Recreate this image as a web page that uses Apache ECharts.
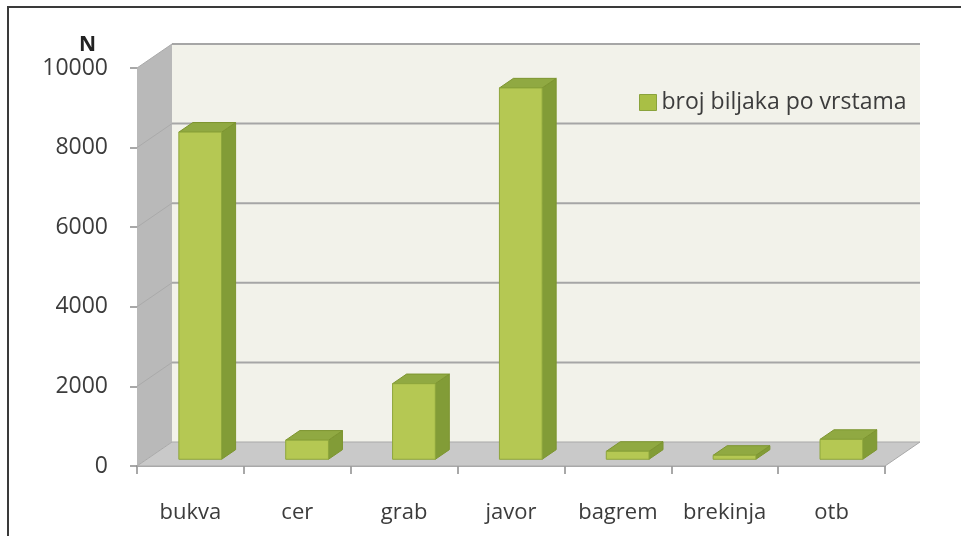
<!DOCTYPE html>
<html>
<head>
<meta charset="utf-8">
<script src="https://cdn.jsdelivr.net/npm/echarts@6/dist/echarts.min.js"></script>
<style>
  html, body { margin: 0; padding: 0; background: #ffffff; }
  #chart { width: 961px; height: 536px; }
</style>
</head>
<body>
<div id="chart"></div>
<script>
// Tree species and number of plants per species
const categories = ['bukva', 'cer', 'grab', 'javor', 'bagrem', 'brekinja', 'otb'];
const counts = [8220, 480, 1900, 9330, 200, 100, 500];
const yTicks = [0, 2000, 4000, 6000, 8000, 10000];
const seriesName = 'broj biljaka po vrstama';

// Pseudo-3D depth: offset of the back wall relative to the front plane
const DX = 35, DY = -24;
const BAR_D0 = 0.28, BAR_D1 = 0.68, BAR_W = 0.4;

const FONT = '"Open Sans", sans-serif';
const TEXT_COLOR = '#3c3c3c';

function renderFrame(params, api) {
  const cs = params.coordSys;
  const x0 = cs.x, x1 = cs.x + cs.width;
  const yt = cs.y, yb = cs.y + cs.height;
  const children = [];
  // back wall
  children.push({
    type: 'polygon',
    shape: { points: [[x0 + DX, yt + DY], [x1 + DX, yt + DY], [x1 + DX, yb + DY], [x0 + DX, yb + DY]] },
    style: { fill: '#f2f2ea' }
  });
  // side wall
  children.push({
    type: 'polygon',
    shape: { points: [[x0, yt], [x0 + DX, yt + DY], [x0 + DX, yb + DY], [x0, yb]] },
    style: { fill: '#b9b9b9' }
  });
  // floor
  children.push({
    type: 'polygon',
    shape: { points: [[x0, yb], [x0 + DX, yb + DY], [x1 + DX, yb + DY], [x1, yb]] },
    style: { fill: '#c9c9c9', stroke: '#a9a9a9', lineWidth: 1 }
  });
  // gridlines on the back wall and side wall
  yTicks.forEach(function (v) {
    const y = api.coord([0, v])[1];
    if (v > 0) {
      children.push({
        type: 'line',
        shape: { x1: x0 + DX, y1: y + DY, x2: x1 + DX, y2: y + DY },
        style: { stroke: '#a6a6a6', lineWidth: 2 }
      });
      children.push({
        type: 'line',
        shape: { x1: x0, y1: y, x2: x0 + DX, y2: y + DY },
        style: { stroke: '#aaaaaa', lineWidth: 1 }
      });
    }
  });
  return { type: 'group', children: children };
}

function renderBar(params, api) {
  const idx = api.value(0);
  const v = api.value(1);
  const base = api.coord([idx, 0]);
  const top = api.coord([idx, v]);
  const w = api.size([1, 0])[0] * BAR_W;
  const fx = base[0] - w / 2 + DX * BAR_D0;
  const fy0 = base[1] + DY * BAR_D0;
  const fy1 = top[1] + DY * BAR_D0;
  const ddx = DX * (BAR_D1 - BAR_D0);
  const ddy = DY * (BAR_D1 - BAR_D0);
  const edge = '#7d9530';
  return {
    type: 'group',
    children: [
      {
        type: 'polygon',
        shape: { points: [[fx + w, fy1], [fx + w + ddx, fy1 + ddy], [fx + w + ddx, fy0 + ddy], [fx + w, fy0]] },
        style: { fill: '#829c37', stroke: edge, lineWidth: 1 }
      },
      {
        type: 'polygon',
        shape: { points: [[fx, fy1], [fx + ddx, fy1 + ddy], [fx + w + ddx, fy1 + ddy], [fx + w, fy1]] },
        style: { fill: '#90a942', stroke: edge, lineWidth: 1 }
      },
      {
        type: 'rect',
        shape: { x: fx, y: fy1, width: w, height: fy0 - fy1 },
        style: { fill: '#b5c853', stroke: '#8ea63c', lineWidth: 1 }
      }
    ]
  };
}

const chart = echarts.init(document.getElementById('chart'), null, { renderer: 'canvas' });

chart.setOption({
  backgroundColor: '#ffffff',
  animation: false,
  title: {
    text: 'N',
    left: 74,
    top: 30,
    textStyle: { fontFamily: FONT, fontSize: 21, fontWeight: 'bold', color: '#222222' }
  },
  legend: {
    data: [seriesName],
    left: 634,
    top: 86,
    icon: 'rect',
    itemWidth: 17,
    itemHeight: 16,
    itemStyle: { color: '#a9bf45', borderColor: '#8aa33c', borderWidth: 1 },
    textStyle: { fontFamily: FONT, fontSize: 23, color: TEXT_COLOR }
  },
  graphic: [{
    type: 'rect',
    shape: { x: 8, y: 7, width: 1000, height: 600 },
    style: { fill: null, stroke: '#3a3a3a', lineWidth: 2 },
    z: 100
  }],
  grid: { left: 137, top: 68, width: 748, height: 398 },
  xAxis: {
    type: 'category',
    data: categories,
    axisLine: { show: true, lineStyle: { color: '#8c8c8c', width: 1.5 } },
    axisTick: { show: true, length: 8, interval: 0, lineStyle: { color: '#8c8c8c', width: 1.5 } },
    axisLabel: { interval: 0, margin: 36, fontFamily: FONT, fontSize: 22, color: TEXT_COLOR }
  },
  yAxis: {
    type: 'value',
    min: 0,
    max: 10000,
    interval: 2000,
    axisLine: { show: false },
    axisTick: { show: true, length: 7, lineStyle: { color: '#8c8c8c', width: 1.5 } },
    splitLine: { show: false },
    axisLabel: {
      margin: 29,
      fontFamily: FONT,
      fontSize: 23,
      color: TEXT_COLOR,
      formatter: function (v) { return String(v); }
    }
  },
  series: [
    {
      type: 'custom',
      silent: true,
      renderItem: renderFrame,
      data: [[0, 0]],
      z: 1
    },
    {
      type: 'custom',
      name: seriesName,
      itemStyle: { color: '#b5c853' },
      renderItem: renderBar,
      encode: { x: 0, y: 1 },
      data: counts.map(function (v, i) { return [i, v]; }),
      z: 2
    }
  ]
});
</script>
</body>
</html>
